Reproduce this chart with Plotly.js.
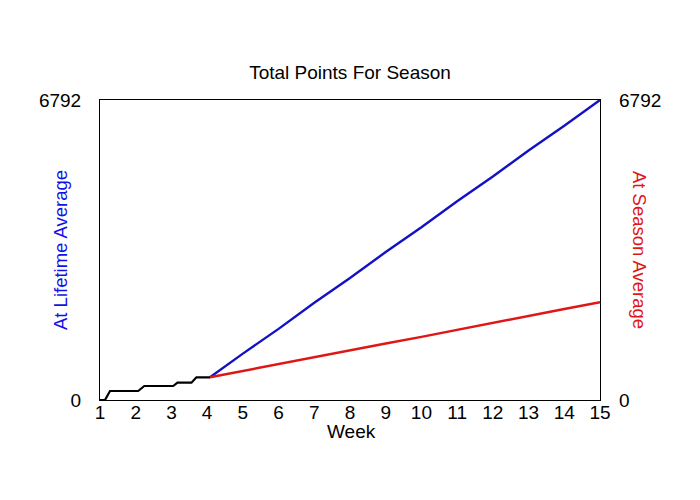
<!DOCTYPE html>
<html>
<head>
<meta charset="utf-8">
<script src="https://cdn.plot.ly/plotly-3.0.1.min.js"></script>
<style>
  html, body { margin: 0; padding: 0; background: #fff; }
  #plotDiv { width: 700px; height: 500px; }
</style>
</head>
<body>
<div id="plotDiv"></div>
<script>
// Points banked so far (step line)
const playedWeeks = [1, 1.14, 1.28, 2.07, 2.24, 3.05, 3.17, 3.56, 3.7, 4.08];
const playedPoints = [0, 0, 204, 204, 317, 317, 392, 392, 514, 514];

// Projection at lifetime average
const lifetimeWeeks = [4.08, 5, 6, 7, 8, 9, 10, 11, 12, 13, 14, 15];
const lifetimePoints = [514, 1050, 1610, 2200, 2760, 3350, 3910, 4500, 5060, 5650, 6210, 6792];

// Projection at season average
const seasonWeeks = [4.08, 5, 6, 7, 8, 9, 10, 11, 12, 13, 14, 15];
const seasonPoints = [514, 660, 810, 970, 1120, 1280, 1430, 1590, 1750, 1900, 2060, 2212];

const weekTicks = [1, 2, 3, 4, 5, 6, 7, 8, 9, 10, 11, 12, 13, 14, 15];
const maxPoints = 6792;

const fontFamily = "Liberation Sans, Arial, sans-serif";

let traces = [
  {
    x: lifetimeWeeks,
    y: lifetimePoints,
    mode: "lines",
    type: "scatter",
    line: { color: "#1212c4", width: 2.4 },
    name: "At Lifetime Average",
  },
  {
    x: seasonWeeks,
    y: seasonPoints,
    yaxis: "y2",
    mode: "lines",
    type: "scatter",
    line: { color: "#e01616", width: 2.4 },
    name: "At Season Average",
  },
  {
    x: playedWeeks,
    y: playedPoints,
    mode: "lines",
    type: "scatter",
    line: { color: "#000000", width: 2.2 },
    name: "Actual",
  },
];

let layout = {
  width: 700,
  height: 500,
  margin: { l: 100, r: 100, t: 100, b: 100 },
  paper_bgcolor: "#fff",
  plot_bgcolor: "#fff",
  showlegend: false,
  font: { family: fontFamily, size: 19, color: "#000" },
  title: {
    text: "Total Points For Season",
    font: { family: fontFamily, size: 19, color: "#000" },
    x: 0.5,
    xanchor: "center",
    y: 0.856,
    yanchor: "middle",
  },
  xaxis: {
    range: [1, 15],
    tickvals: weekTicks,
    ticks: "",
    showgrid: false,
    zeroline: false,
    showline: true,
    mirror: true,
    linecolor: "#000",
    linewidth: 1,
    tickfont: { size: 19 },
    ticklabelstandoff: -5,
  },
  yaxis: {
    range: [0, maxPoints],
    tickvals: [0, maxPoints],
    ticks: "",
    showgrid: false,
    zeroline: false,
    showline: true,
    mirror: true,
    linecolor: "#000",
    linewidth: 1,
    tickfont: { size: 19 },
    ticklabelstandoff: 14,
  },
  yaxis2: {
    range: [0, maxPoints],
    tickvals: [0, maxPoints],
    overlaying: "y",
    side: "right",
    ticks: "",
    showgrid: false,
    zeroline: false,
    showline: false,
    tickfont: { size: 19 },
    ticklabelstandoff: 18,
  },
  annotations: [
    {
      text: "Week",
      xref: "paper",
      yref: "paper",
      x: 0.502,
      y: -0.105,
      xanchor: "center",
      yanchor: "middle",
      showarrow: false,
      font: { family: fontFamily, size: 19, color: "#000" },
    },
    {
      text: "At Lifetime Average",
      xref: "paper",
      yref: "paper",
      x: -0.08,
      y: 0.5,
      xanchor: "center",
      yanchor: "middle",
      textangle: -90,
      showarrow: false,
      font: { family: fontFamily, size: 18.5, color: "#1010e8" },
    },
    {
      text: "At Season Average",
      xref: "paper",
      yref: "paper",
      x: 1.08,
      y: 0.5,
      xanchor: "center",
      yanchor: "middle",
      textangle: 90,
      showarrow: false,
      font: { family: fontFamily, size: 18.5, color: "#e01616" },
    },
  ],
};

Plotly.newPlot("plotDiv", traces, layout, { displayModeBar: false, staticPlot: true });
</script>
</body>
</html>
